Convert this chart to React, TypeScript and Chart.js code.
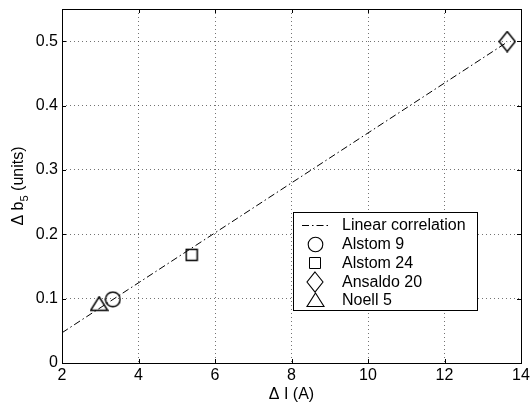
import React, { useEffect, useRef } from "react";
import { Chart, registerables } from "chart.js";

Chart.register(...registerables);

// ---- data ----
const seriesNames = ["Linear correlation", "Alstom 9", "Alstom 24", "Ansaldo 20", "Noell 5"];
const fitX = [2, 13.65];
const fitY = [0.047, 0.499];
const alstom9X = [3.33];
const alstom9Y = [0.099];
const alstom24X = [5.39];
const alstom24Y = [0.168];
const ansaldo20X = [13.64];
const ansaldo20Y = [0.4995];
const noell5X = [2.97];
const noell5Y = [0.092];
const xTicks = [2, 4, 6, 8, 10, 12, 14];
const yTicks = [0, 0.1, 0.2, 0.3, 0.4, 0.5];

const FONT = "'Liberation Sans', Arial, Helvetica, sans-serif";

function makeMarker(kind: string, lw: number): HTMLCanvasElement {
  const c = document.createElement("canvas");
  let w = 17, h = 17;
  if (kind === "circle") { w = 17; h = 17; }
  if (kind === "square") { w = 14; h = 14; }
  if (kind === "diamond") { w = 18; h = 22; }
  if (kind === "triangle") { w = 19; h = 16; }
  c.width = w; c.height = h;
  const ctx = c.getContext("2d")!;
  ctx.strokeStyle = "#000";
  ctx.lineWidth = lw;
  ctx.beginPath();
  if (kind === "circle") {
    ctx.arc(w / 2, h / 2, 7.3, 0, Math.PI * 2);
  } else if (kind === "square") {
    ctx.rect(1.5, 1.5, w - 3, h - 3);
  } else if (kind === "diamond") {
    ctx.moveTo(w / 2, 1);
    ctx.lineTo(w - 1, h / 2);
    ctx.lineTo(w / 2, h - 1);
    ctx.lineTo(1, h / 2);
    ctx.closePath();
  } else if (kind === "triangle") {
    ctx.moveTo(w / 2, 1);
    ctx.lineTo(w - 1, h - 1.5);
    ctx.lineTo(1, h - 1.5);
    ctx.closePath();
  }
  ctx.stroke();
  return c;
}

const toPts = (xs: number[], ys: number[]) => xs.map((x, i) => ({ x, y: ys[i] }));

export default function App() {
  const ref = useRef<HTMLCanvasElement | null>(null);

  useEffect(() => {
    const canvas = ref.current!;
    const dataMarkers = {
      circle: makeMarker("circle", 1.5),
      square: makeMarker("square", 1.5),
      diamond: makeMarker("diamond", 1.5),
      triangle: makeMarker("triangle", 1.5),
    };
    const legendMarkers = [
      null,
      makeMarker("circle", 1.1),
      makeMarker("square", 1),
      makeMarker("diamond", 1.1),
      makeMarker("triangle", 1.1),
    ];
    const dash = [7, 3, 1.5, 3];

    const framePlugin = {
      id: "frame",
      afterDraw(chart: any) {
        const { ctx, chartArea: a, scales } = chart;
        ctx.save();
        ctx.strokeStyle = "#000";
        ctx.lineWidth = 1;
        ctx.strokeRect(Math.round(a.left) + 0.5, Math.round(a.top) + 0.5, Math.round(a.right - a.left), Math.round(a.bottom - a.top));
        const tl = 4;
        ctx.beginPath();
        xTicks.forEach((v) => {
          const px = Math.round(scales.x.getPixelForValue(v)) + 0.5;
          ctx.moveTo(px, a.bottom); ctx.lineTo(px, a.bottom - tl);
          ctx.moveTo(px, a.top); ctx.lineTo(px, a.top + tl);
        });
        yTicks.forEach((v) => {
          const py = Math.round(scales.y.getPixelForValue(v)) + 0.5;
          ctx.moveTo(a.left, py); ctx.lineTo(a.left + tl, py);
          ctx.moveTo(a.right, py); ctx.lineTo(a.right - tl, py);
        });
        ctx.stroke();

        // axis titles
        ctx.fillStyle = "#000";
        ctx.font = `16px ${FONT}`;
        ctx.textAlign = "center";
        ctx.textBaseline = "alphabetic";
        ctx.fillText("\u0394 I (A)", (a.left + a.right) / 2, 399);

        ctx.save();
        const cy = (a.top + a.bottom) / 2;
        ctx.translate(23, cy);
        ctx.rotate(-Math.PI / 2);
        ctx.textAlign = "left";
        const p1 = "\u0394 b";
        const p2 = "5";
        const p3 = " (units)";
        ctx.font = `16px ${FONT}`;
        const w1 = ctx.measureText(p1).width;
        const w3 = ctx.measureText(p3).width;
        ctx.font = `11px ${FONT}`;
        const w2 = ctx.measureText(p2).width;
        const total = w1 + w2 + w3;
        let x0 = -total / 2;
        ctx.font = `16px ${FONT}`;
        ctx.fillText(p1, x0, 0);
        x0 += w1;
        ctx.font = `11px ${FONT}`;
        ctx.fillText(p2, x0, 5);
        x0 += w2;
        ctx.font = `16px ${FONT}`;
        ctx.fillText(p3, x0, 0);
        ctx.restore();

        // legend
        const lx = 293.5, ly = 212.5, lw = 184, lh = 98;
        ctx.fillStyle = "#fff";
        ctx.fillRect(lx, ly, lw, lh);
        ctx.strokeStyle = "#000";
        ctx.lineWidth = 1;
        ctx.strokeRect(lx, ly, lw, lh);
        const rowY = [225, 244, 263, 282, 300];
        ctx.font = `16px ${FONT}`;
        ctx.textAlign = "left";
        ctx.textBaseline = "middle";
        ctx.fillStyle = "#000";
        seriesNames.forEach((name, i) => {
          const y = rowY[i];
          if (i === 0) {
            ctx.save();
            ctx.setLineDash(dash);
            ctx.beginPath();
            ctx.moveTo(302, Math.round(y) + 0.5);
            ctx.lineTo(329, Math.round(y) + 0.5);
            ctx.stroke();
            ctx.restore();
          } else {
            const m = legendMarkers[i]!;
            ctx.drawImage(m, Math.round(315 - m.width / 2), Math.round(y - m.height / 2));
          }
          ctx.fillText(name, 342, y + 1);
        });
        ctx.restore();
      },
    };

    const chart = new Chart(canvas, {
      type: "scatter",
      data: {
        datasets: [
          {
            type: "line",
            label: seriesNames[0],
            data: toPts(fitX, fitY),
            borderColor: "#000",
            borderWidth: 1,
            borderDash: dash,
            pointRadius: 0,
            fill: false,
            showLine: true,
          } as any,
          { label: seriesNames[1], data: toPts(alstom9X, alstom9Y), pointStyle: dataMarkers.circle, pointRadius: 8 },
          { label: seriesNames[2], data: toPts(alstom24X, alstom24Y), pointStyle: dataMarkers.square, pointRadius: 8 },
          { label: seriesNames[3], data: toPts(ansaldo20X, ansaldo20Y), pointStyle: dataMarkers.diamond, pointRadius: 8 },
          { label: seriesNames[4], data: toPts(noell5X, noell5Y), pointStyle: dataMarkers.triangle, pointRadius: 8 },
        ],
      },
      options: {
        responsive: false,
        animation: false,
        devicePixelRatio: 1,
        layout: { padding: { top: 7, right: 8, left: 0, bottom: 0 } },
        plugins: { legend: { display: false }, tooltip: { enabled: false } },
        scales: {
          x: {
            type: "linear",
            min: 2,
            max: 14,
            afterBuildTicks: (s: any) => { s.ticks = xTicks.map((v) => ({ value: v })); },
            afterFit: (s: any) => { s.height = 44; s.paddingLeft = 0; s.paddingRight = 0; },
            ticks: { color: "#000", font: { family: FONT, size: 16 }, padding: 3, maxRotation: 0, autoSkip: false },
            grid: { color: "rgba(0,0,0,0.55)", drawTicks: false, lineWidth: 1 },
            border: { display: false, dash: [1, 3] },
          },
          y: {
            type: "linear",
            min: 0,
            max: 0.55,
            afterBuildTicks: (s: any) => { s.ticks = yTicks.map((v) => ({ value: v })); },
            afterFit: (s: any) => { s.width = 62; s.paddingTop = 0; s.paddingBottom = 0; },
            ticks: {
              color: "#000",
              font: { family: FONT, size: 16 },
              padding: 4,
              autoSkip: false,
              callback: (v: any) => String(+(+v).toFixed(1)),
            },
            grid: { color: "rgba(0,0,0,0.55)", drawTicks: false, lineWidth: 1 },
            border: { display: false, dash: [1, 3] },
          },
        },
      },
      plugins: [framePlugin],
    });
    return () => chart.destroy();
  }, []);

  return (
    <div style={{ position: "fixed", left: 0, top: 0, width: 530, height: 407, background: "#fff" }}>
      <canvas ref={ref} width={530} height={407} style={{ display: "block", width: 530, height: 407 }} />
    </div>
  );
}
